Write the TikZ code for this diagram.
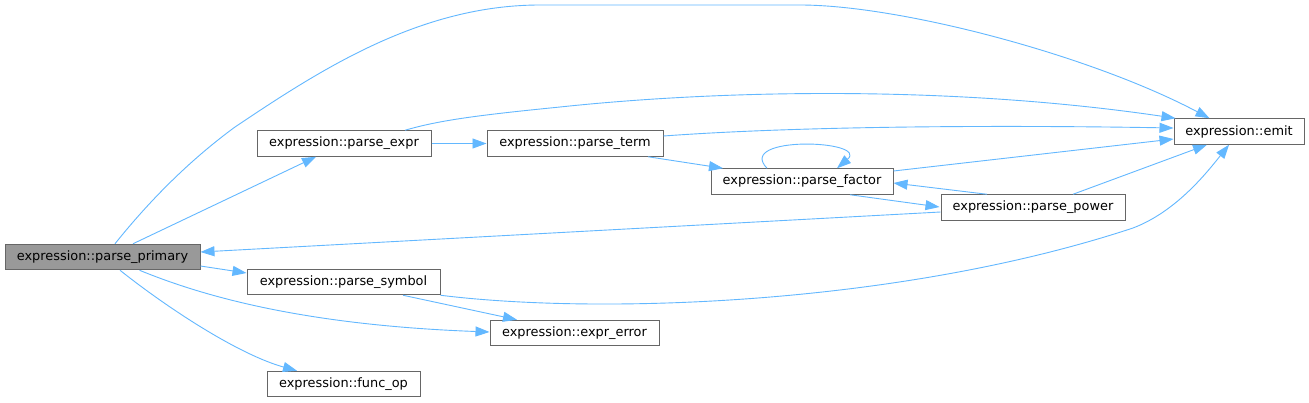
\documentclass[tikz,border=0pt]{standalone}
\usepackage{fontspec}
\setmainfont{DejaVu Sans}
\usetikzlibrary{arrows.meta,calc}
\definecolor{edgeblue}{HTML}{63B8FF}
\definecolor{boxborder}{HTML}{666666}
\definecolor{boxfill}{HTML}{999999}
\begin{document}
\begin{tikzpicture}[x=1pt,y=-1pt,
  box/.style={draw=boxborder,line width=1pt,fill=white,rectangle,inner sep=0pt,
    minimum height=25.5pt,font=\fontsize{12.9}{15}\selectfont,text=black},
  hl/.style={fill=boxfill},
  edge/.style={draw=edgeblue,line width=0.9pt,
    -{Triangle[length=14pt,width=10pt]}}]
\useasboundingbox (0,0) rectangle (1309,402);
\fill[white] (0,0) rectangle (1309,402);

% nodes
\node[box,hl,minimum width=195pt] (primary) at (102.5,257) {expression::parse\_primary};
\node[box,minimum width=174pt] (expr) at (344,143.5) {expression::parse\_expr};
\node[box,minimum width=176pt] (term) at (575,143.5) {expression::parse\_term};
\node[box,minimum width=182pt] (factor) at (802,181.5) {expression::parse\_factor};
\node[box,minimum width=184pt] (power) at (1033,207.5) {expression::parse\_power};
\node[box,minimum width=130pt] (emit) at (1239,131.5) {expression::emit};
\node[box,minimum width=193pt] (symbol) at (343.5,282) {expression::parse\_symbol};
\node[box,minimum width=169pt] (error) at (574.5,333) {expression::expr\_error};
\node[box,minimum width=153pt] (funcop) at (343.5,384) {expression::func\_op};

% edges
\draw[edge] ($(primary.north)+(12.5,0)$) .. controls (150,200) and (190,160) .. (235,127)
  .. controls (320,70) and (420,5) .. (540,5) -- (800,5)
  .. controls (900,5) and (1090,55) .. ($(emit.north west)+(36,0)$);
\draw[edge] ($(primary.north)+(30.5,0)$) -- ($(expr.south)+(-28,0)$);
\draw[edge] ($(primary.east)+(0,9)$) -- ($(symbol.west)+(0,-9)$);
\draw[edge] ($(primary.south)+(37,0)$) .. controls (200,295) and (300,325) .. ($(error.west)+(0,-1)$);
\draw[edge] ($(primary.south)+(17.5,0)$) .. controls (170,310) and (240,355) .. ($(funcop.north)+(-46.5,0)$);
\draw[edge] ($(power.west)+(0,4.5)$) -- ($(primary.east)+(0,-5)$);
\draw[edge] (expr.east) -- (term.west);
\draw[edge] ($(expr.north)+(61,0)$) .. controls (440,120) and (480,115) .. (560,107)
  .. controls (720,90) and (950,85) .. ($(emit.north west)+(2,0)$);
\draw[edge] ($(term.east)+(0,-7.5)$) .. controls (800,126) and (1000,125) .. ($(emit.west)+(0,-3.5)$);
\draw[edge] ($(term.south)+(73,0)$) -- ($(factor.north)+(-79,0)$);
\draw[edge] ($(factor.north)+(-35,0)$) .. controls (735,135) and (870,140) .. ($(factor.north)+(35,0)$);
\draw[edge] ($(factor.east)+(0,-10.5)$) -- ($(emit.west)+(0,7.5)$);
\draw[edge] ($(factor.south)+(48,0)$) -- ($(power.west)+(-1,-0.5)$);
\draw[edge] ($(power.north)+(-46,0)$) -- ($(factor.east)+(0,1.5)$);
\draw[edge] ($(power.north)+(40,0)$) -- ($(emit.south)+(-32,0)$);
\draw[edge] (symbol.south east) .. controls (600,315) and (900,305) .. (1133,228)
  .. controls (1175,212) and (1205,175) .. ($(emit.south)+(-10,0)$);
\draw[edge] ($(symbol.south)+(59.5,0)$) -- ($(error.north)+(-57.5,0)$);
\end{tikzpicture}
\end{document}
